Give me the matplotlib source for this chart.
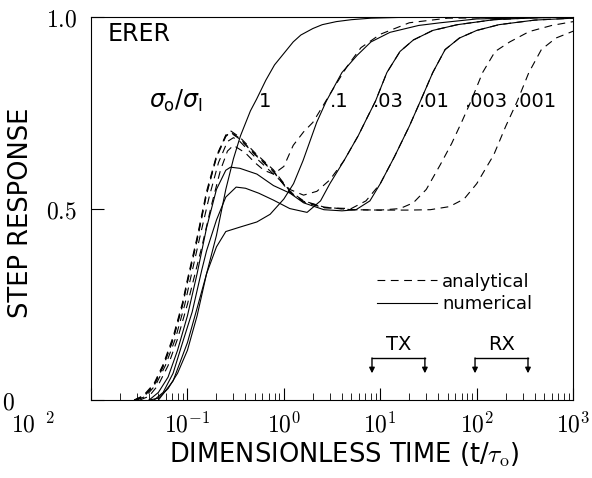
import matplotlib
matplotlib.use("Agg")
import matplotlib.pyplot as plt
from matplotlib.lines import Line2D
from matplotlib.transforms import ScaledTranslation

plt.rcParams['font.family'] = ['DejaVu Sans']
plt.rcParams['mathtext.fontset'] = 'cm'

# ----------------- datos -----------------
# sigma_o/sigma_1 = 1 (numerico)
t_r1 = [0.04, 0.05, 0.063, 0.079, 0.1, 0.126, 0.158, 0.2, 0.25, 0.3, 0.355, 0.45, 0.52,
        0.65, 0.8, 1.0, 1.25, 1.5, 2.0, 2.5, 3.5, 5, 8, 16, 50, 1000]
y_r1 = [0.0, 0.005, 0.03, 0.07, 0.13, 0.22, 0.33, 0.43, 0.55, 0.63, 0.69, 0.755, 0.785,
        0.835, 0.875, 0.905, 0.935, 0.953, 0.97, 0.98, 0.988, 0.993, 0.997, 0.999, 1.0, 1.0]

# analiticos (trazo discontinuo)
ta_1 = [0.032, 0.04, 0.05, 0.063, 0.079, 0.1, 0.112, 0.141, 0.178, 0.22, 0.26, 0.3, 0.4,
        0.5, 0.62, 0.78, 1.0, 1.25, 1.6, 2.0, 2.5, 3.2, 4.5, 6.3, 10, 20, 50, 1000]
ya_1 = [0.0, 0.01, 0.04, 0.09, 0.16, 0.25, 0.30, 0.40, 0.51, 0.60, 0.65, 0.665, 0.645,
        0.62, 0.60, 0.59, 0.61, 0.665, 0.70, 0.725, 0.765, 0.81, 0.87, 0.92, 0.955, 0.985, 0.997, 1.0]

ta_03 = [0.03, 0.037, 0.047, 0.059, 0.075, 0.094, 0.106, 0.133, 0.168, 0.21, 0.26, 0.3, 0.35,
         0.5, 0.78, 1.15, 1.6, 2.2, 3.0, 4.2, 5.9, 7.4, 8.9, 11.7, 16, 22, 35, 63, 150, 400, 1000]
ya_03 = [0.0, 0.01, 0.04, 0.09, 0.16, 0.25, 0.31, 0.42, 0.53, 0.62, 0.675, 0.685, 0.675,
         0.635, 0.59, 0.55, 0.535, 0.545, 0.575, 0.625, 0.69, 0.74, 0.78, 0.855, 0.91, 0.94,
         0.965, 0.98, 0.993, 0.998, 1.0]

ta_01 = [0.028, 0.035, 0.045, 0.056, 0.071, 0.089, 0.1, 0.126, 0.158, 0.2, 0.25, 0.28, 0.35,
         0.5, 0.78, 1.15, 1.6, 2.6, 5, 7.1, 10, 14, 20, 26, 35, 47, 66, 100, 170, 400, 1000]
ya_01 = [0.0, 0.012, 0.043, 0.093, 0.165, 0.255, 0.315, 0.425, 0.545, 0.638, 0.69, 0.698, 0.681,
         0.641, 0.596, 0.542, 0.517, 0.502, 0.50, 0.52, 0.565, 0.635, 0.715, 0.78, 0.855, 0.915,
         0.945, 0.965, 0.98, 0.992, 0.997]

ta_003 = [0.028, 0.035, 0.045, 0.056, 0.071, 0.089, 0.1, 0.126, 0.158, 0.2, 0.25, 0.28, 0.35,
          0.5, 0.78, 1.15, 1.6, 2.6, 5, 10, 16, 22, 30, 42, 55, 71, 87, 115, 155, 220, 350, 600, 1000]
ya_003 = [0.0, 0.01, 0.04, 0.09, 0.16, 0.25, 0.31, 0.42, 0.54, 0.633, 0.688, 0.70, 0.683,
          0.643, 0.598, 0.544, 0.519, 0.503, 0.497, 0.496, 0.50, 0.515, 0.55, 0.615, 0.67, 0.73,
          0.78, 0.855, 0.91, 0.935, 0.962, 0.978, 0.988]

ta_001 = [0.028, 0.035, 0.045, 0.056, 0.071, 0.089, 0.1, 0.126, 0.158, 0.2, 0.25, 0.28, 0.35,
          0.5, 0.78, 1.15, 1.6, 2.6, 5, 10, 20, 33, 52, 74, 100, 150, 200, 263, 347, 468, 661, 1000]
ya_001 = [0.0, 0.008, 0.037, 0.087, 0.157, 0.247, 0.307, 0.417, 0.537, 0.635, 0.692, 0.703, 0.686,
          0.646, 0.601, 0.546, 0.52, 0.504, 0.497, 0.496, 0.496, 0.497, 0.505, 0.525, 0.565,
          0.64, 0.715, 0.78, 0.855, 0.915, 0.945, 0.963]

# numericos (trazo continuo)
tn_1 = [0.05, 0.071, 0.1, 0.126, 0.158, 0.2, 0.25, 0.355, 0.525, 0.72, 1.0, 1.26, 1.58, 2.19,
        2.75, 4.0, 5.75, 8, 12.6, 25, 42, 100, 1000]
yn_1 = [0.0, 0.05, 0.15, 0.24, 0.33, 0.40, 0.44, 0.452, 0.465, 0.485, 0.525, 0.565, 0.625, 0.725,
        0.78, 0.855, 0.90, 0.935, 0.96, 0.978, 0.985, 0.995, 1.0]

tn_03 = [0.045, 0.056, 0.071, 0.089, 0.112, 0.141, 0.158, 0.2, 0.25, 0.32, 0.4, 0.55, 0.78, 1.15,
         1.74, 2.4, 3.0, 4.2, 5.9, 7.4, 8.9, 11.7, 16, 22, 35, 63, 150, 400, 1000]
yn_03 = [0.0, 0.02, 0.07, 0.15, 0.23, 0.34, 0.39, 0.47, 0.53, 0.556, 0.553, 0.54, 0.522, 0.50,
         0.49, 0.52, 0.565, 0.625, 0.69, 0.74, 0.78, 0.855, 0.91, 0.94, 0.965, 0.98, 0.993, 0.998, 1.0]

tn_01 = [0.04, 0.05, 0.063, 0.079, 0.1, 0.126, 0.158, 0.2, 0.25, 0.28, 0.35, 0.525, 0.78, 1.16,
         1.6, 2.6, 4, 5.6, 7.8, 10, 14, 20, 26, 35, 47, 66, 100, 170, 400, 1000]
yn_01 = [0.0, 0.02, 0.06, 0.13, 0.22, 0.33, 0.45, 0.55, 0.60, 0.608, 0.605, 0.59, 0.56, 0.54,
         0.515, 0.497, 0.494, 0.497, 0.52, 0.565, 0.635, 0.715, 0.78, 0.855, 0.915, 0.945, 0.965,
         0.98, 0.992, 0.997]

# etiquetas de las curvas (posicion x, texto)
ratio_labels = ["1", ".1", ".03", ".01", ".003", ".001"]
ratio_label_t = [0.55, 3.0, 8.3, 25, 76, 240]
label_y = 0.78

# intervalos TX / RX
tx_range = [8.2, 29]
rx_range = [96, 340]

# ----------------- figura -----------------
fig = plt.figure(figsize=(5.92, 4.78), dpi=100)
ax = fig.add_axes([0.1537, 0.163, 0.8145, 0.8014])

lw = 0.8
dash = (7, 5)
for t, y in [(ta_1, ya_1), (ta_03, ya_03), (ta_01, ya_01), (ta_003, ya_003), (ta_001, ya_001)]:
    ax.plot(t, y, color="black", lw=lw, linestyle=(0, dash))
for t, y in [(t_r1, y_r1), (tn_1, yn_1), (tn_03, yn_03), (tn_01, yn_01)]:
    ax.plot(t, y, color="black", lw=lw)

ax.set_xscale("log")
ax.set_xlim(0.01, 1000)
ax.set_ylim(0, 1.0)

for s in ax.spines.values():
    s.set_linewidth(0.8)

ax.set_xticks([0.01, 0.1, 1, 10, 100, 1000])
ax.set_xticklabels([r"$10^{\ \ 2}$", r"$10^{-1}$", r"$10^{0}$", r"$10^{1}$", r"$10^{2}$", r"$10^{3}$"])
ax.set_yticks([0, 0.5, 1.0])
ax.set_yticklabels([r"$0$", r"$0.5$", r"$1.0$"])
ax.tick_params(axis="both", which="major", direction="in", length=9, width=0.8, labelsize=17)
ax.tick_params(axis="x", which="minor", direction="in", length=5, width=0.6)
ax.tick_params(axis="x", which="major", pad=9)
ax.tick_params(axis="y", which="major", pad=10)

# desplazar etiquetas raras como en el original
def mover(lbl, dx, dy=0):
    lbl.set_transform(lbl.get_transform() + ScaledTranslation(dx / 100, dy / 100, fig.dpi_scale_trans))

mover(ax.get_xticklabels()[0], -58)
mover(ax.get_yticklabels()[0], -62)

ax.set_xlabel(r"DIMENSIONLESS TIME (t/$\tau_{\rm o}$)", fontsize=18.5)
ax.xaxis.set_label_coords(0.525, -0.105)
ax.xaxis.label.set_va("top")
ax.set_ylabel("STEP RESPONSE", fontsize=18.5)
ax.yaxis.set_label_coords(-0.118, 0.49)

ax.text(0.035, 0.955, "ERER", transform=ax.transAxes, fontsize=17, va="center", ha="left")
ax.text(0.04, label_y, r"$\sigma_{\rm o}/\sigma_{\rm I}$", fontsize=17, va="center", ha="left",
        math_fontfamily="dejavusans")
for t, lab in zip(ratio_label_t, ratio_labels):
    ax.text(t, label_y, lab, fontsize=14, va="center", ha="left")

handles = [Line2D([], [], color="black", lw=lw, linestyle=(0, dash)),
           Line2D([], [], color="black", lw=lw)]
ax.legend(handles, ["analytical", "numerical"], loc="center left", bbox_to_anchor=(0.56, 0.28),
          frameon=False, fontsize=13, handlelength=3.3, handletextpad=0.3, labelspacing=0.25)

# corchetes TX y RX
y_top, y_arrow = 0.11, 0.07
for rng, name in [(tx_range, "TX"), (rx_range, "RX")]:
    ax.plot([rng[0], rng[1]], [y_top, y_top], color="black", lw=1.0)
    for xx in rng:
        ax.annotate("", xy=(xx, y_arrow), xytext=(xx, y_top),
                    arrowprops=dict(arrowstyle="-|>", color="black", lw=1.0,
                                    mutation_scale=8, shrinkA=0, shrinkB=0))
    ax.text((rng[0] * rng[1]) ** 0.5, 0.145, name, fontsize=14, ha="center", va="center")

fig.savefig("out.png", dpi=100)
